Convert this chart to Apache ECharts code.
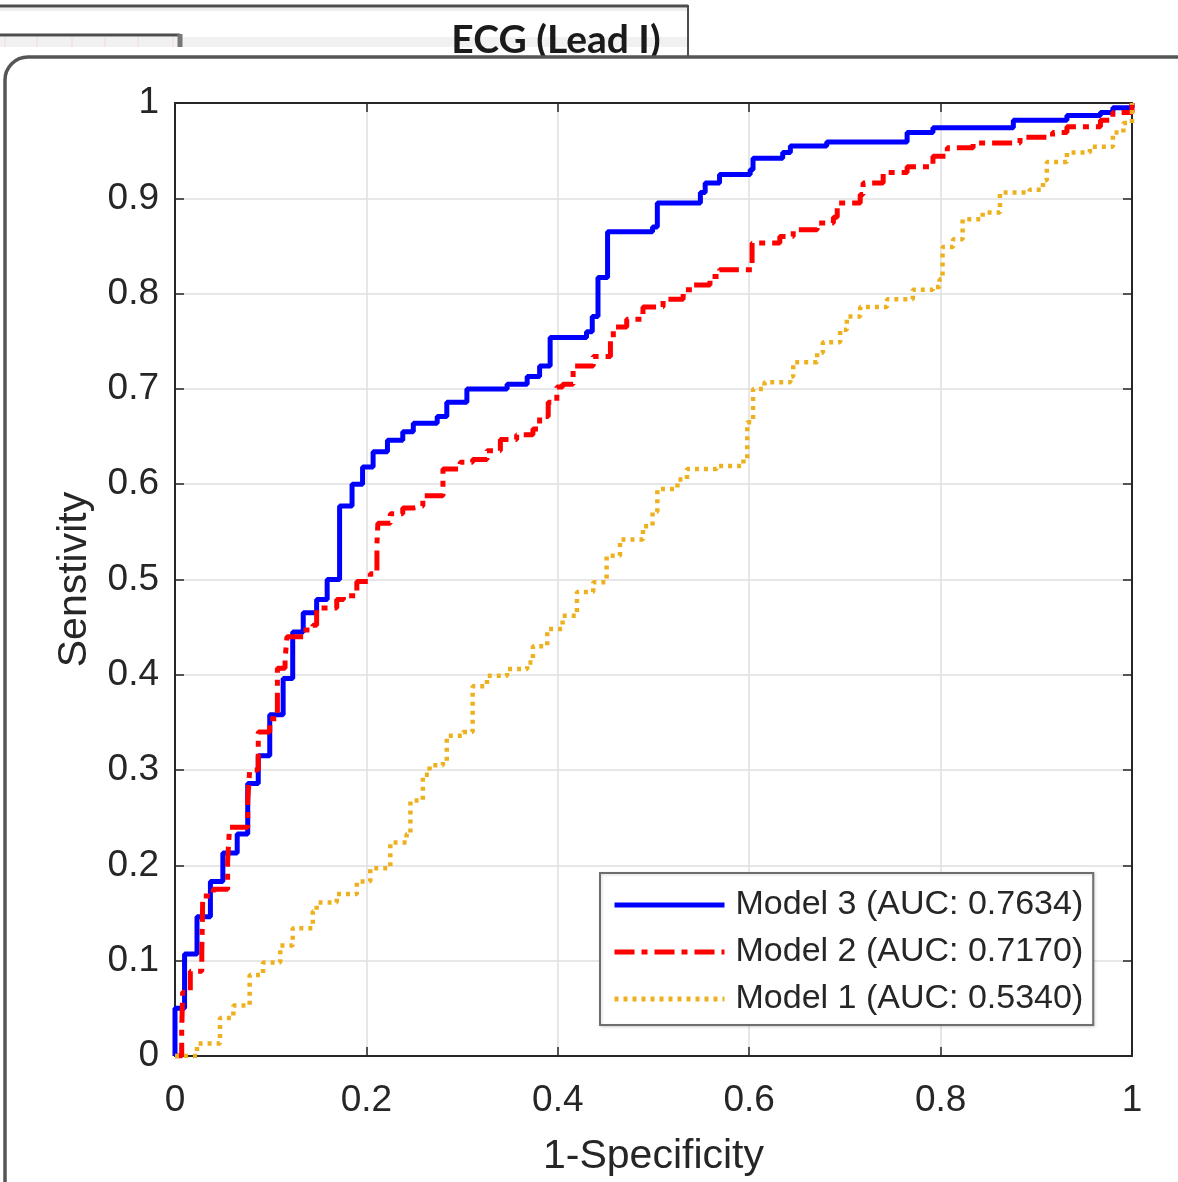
<!DOCTYPE html>
<html>
<head>
<meta charset="utf-8">
<title>ROC - ECG (Lead I)</title>
<script src="https://cdn.jsdelivr.net/npm/echarts@6/dist/echarts.min.js"></script>
<style>
    html, body { margin: 0; padding: 0; background: #fff; }
    /* chart fills the whole window */
    #chart { width: 1178px; height: 1182px; }
</style>
</head>
<body>
<div id="chart"></div>
<script>
    // legend names
    var seriesNames = ['Model 3 (AUC: 0.7634)', 'Model 2 (AUC: 0.7170)', 'Model 1 (AUC: 0.5340)'];
    // tick labels
    var xTicks = [0, 0.2, 0.4, 0.6, 0.8, 1];
    var yTicks = [0, 0.1, 0.2, 0.3, 0.4, 0.5, 0.6, 0.7, 0.8, 0.9, 1];

    // ROC corner points [1-specificity, sensitivity], drawn as steps
    var model3Roc = [
        [0, 0], [0, 0.05], [0.010, 0.107], [0.023, 0.146], [0.037, 0.183], [0.050, 0.213],
        [0.065, 0.233], [0.076, 0.286], [0.087, 0.315], [0.099, 0.358], [0.113, 0.396],
        [0.123, 0.445], [0.134, 0.465], [0.148, 0.479], [0.159, 0.5], [0.172, 0.577],
        [0.185, 0.6], [0.196, 0.618], [0.207, 0.634], [0.222, 0.646], [0.238, 0.655],
        [0.249, 0.664], [0.274, 0.671], [0.284, 0.686], [0.305, 0.70], [0.347, 0.705],
        [0.368, 0.713], [0.381, 0.724], [0.392, 0.754], [0.43, 0.76], [0.436, 0.776],
        [0.442, 0.817], [0.452, 0.865], [0.499, 0.87], [0.504, 0.895], [0.549, 0.906],
        [0.554, 0.916], [0.569, 0.925], [0.601, 0.93], [0.604, 0.942], [0.635, 0.948],
        [0.643, 0.955], [0.681, 0.959], [0.765, 0.969], [0.792, 0.974], [0.876, 0.982],
        [0.932, 0.987], [0.967, 0.99], [0.98, 0.995], [1, 1]
    ];
    var model2Roc = [
        [0, 0], [0.002, 0], [0.007, 0.027], [0.008, 0.067], [0.016, 0.089], [0.028, 0.107],
        [0.029, 0.168], [0.040, 0.175], [0.055, 0.205], [0.057, 0.24], [0.076, 0.268],
        [0.078, 0.30], [0.087, 0.34], [0.099, 0.354], [0.107, 0.407], [0.115, 0.416],
        [0.117, 0.44], [0.134, 0.447], [0.144, 0.452], [0.148, 0.47], [0.169, 0.479],
        [0.176, 0.483], [0.19, 0.498], [0.204, 0.506], [0.211, 0.537], [0.212, 0.559],
        [0.225, 0.569], [0.238, 0.575], [0.249, 0.577], [0.259, 0.588], [0.28, 0.616],
        [0.298, 0.623], [0.311, 0.626], [0.326, 0.635], [0.34, 0.647], [0.357, 0.652],
        [0.374, 0.658], [0.381, 0.671], [0.39, 0.686], [0.399, 0.702], [0.405, 0.705],
        [0.416, 0.724], [0.437, 0.734], [0.455, 0.752], [0.458, 0.765], [0.472, 0.773],
        [0.489, 0.786], [0.51, 0.794], [0.531, 0.804], [0.541, 0.809], [0.559, 0.818],
        [0.569, 0.825], [0.603, 0.853], [0.632, 0.86], [0.646, 0.867], [0.671, 0.874],
        [0.688, 0.88], [0.692, 0.895], [0.716, 0.904], [0.719, 0.916], [0.74, 0.927],
        [0.765, 0.933], [0.792, 0.944], [0.807, 0.953], [0.834, 0.958], [0.883, 0.964],
        [0.917, 0.969], [0.932, 0.975], [0.967, 0.982], [0.98, 0.99], [1, 1]
    ];
    var model1Roc = [
        [0, 0], [0.005, 0], [0.023, 0.013], [0.047, 0.04], [0.061, 0.053], [0.078, 0.085],
        [0.092, 0.098], [0.11, 0.116], [0.123, 0.134], [0.144, 0.152], [0.148, 0.161],
        [0.169, 0.17], [0.19, 0.183], [0.204, 0.197], [0.225, 0.224], [0.242, 0.233],
        [0.246, 0.268], [0.259, 0.295], [0.266, 0.305], [0.28, 0.309], [0.284, 0.336],
        [0.301, 0.34], [0.311, 0.388], [0.326, 0.399], [0.347, 0.406], [0.368, 0.413],
        [0.374, 0.43], [0.389, 0.448], [0.405, 0.462], [0.42, 0.487], [0.437, 0.497],
        [0.451, 0.525], [0.465, 0.542], [0.489, 0.556], [0.499, 0.571], [0.504, 0.595],
        [0.525, 0.605], [0.535, 0.616], [0.566, 0.619], [0.594, 0.626], [0.598, 0.665],
        [0.604, 0.70], [0.616, 0.707], [0.643, 0.713], [0.646, 0.728], [0.671, 0.738],
        [0.677, 0.749], [0.695, 0.762], [0.702, 0.776], [0.716, 0.786], [0.744, 0.794],
        [0.771, 0.804], [0.792, 0.807], [0.799, 0.815], [0.802, 0.849], [0.813, 0.857],
        [0.823, 0.878], [0.844, 0.885], [0.862, 0.906], [0.893, 0.909], [0.907, 0.919],
        [0.911, 0.938], [0.932, 0.948], [0.956, 0.954], [0.98, 0.969], [0.991, 0.979], [1, 1]
    ];

    var axisColor = '#262626';
    var font = '"Liberation Sans", Arial, sans-serif';

    var myChart = echarts.init(document.getElementById('chart'));

    // frame of the screenshot around the plot
    var paperLines = [5, 37, 72, 105, 138, 173].map(function (x) {
        return {
            type: 'line', z: -30, silent: true,
            shape: { x1: x, y1: 37, x2: x, y2: 47 },
            style: { stroke: '#f6d6d6', lineWidth: 1 }
        };
    });
    var frame = [
        { type: 'rect', z: -40, silent: true, shape: { x: 0, y: 8, width: 687, height: 3 }, style: { fill: '#eeeeee' } },
        { type: 'rect', z: -40, silent: true, shape: { x: 0, y: 37, width: 687, height: 10 }, style: { fill: '#f1f1f1' } },
        { type: 'line', z: -20, silent: true, shape: { x1: 0, y1: 6, x2: 688, y2: 6 }, style: { stroke: '#4d4d4d', lineWidth: 3 } },
        { type: 'line', z: -20, silent: true, shape: { x1: 688, y1: 5, x2: 688, y2: 56 }, style: { stroke: '#4d4d4d', lineWidth: 2 } },
        { type: 'line', z: -20, silent: true, shape: { x1: 0, y1: 35, x2: 180, y2: 35 }, style: { stroke: '#4d4d4d', lineWidth: 3 } },
        { type: 'line', z: -20, silent: true, shape: { x1: 180, y1: 34, x2: 180, y2: 47 }, style: { stroke: '#777777', lineWidth: 5 } },
        {
            type: 'text', z: -20, silent: true,
            style: {
                x: 556, y: 21, text: 'ECG (Lead I)', align: 'center', verticalAlign: 'top',
                fill: '#1a1a1a', font: 'bold 39px Lato, "Open Sans", sans-serif'
            }
        },
        {
            type: 'rect', z: -10, silent: true,
            shape: { x: 5, y: 57, width: 1200, height: 1200, r: 23 },
            style: { fill: '#ffffff', stroke: '#555555', lineWidth: 3.5 }
        }
    ].concat(paperLines);

    var option = {
        animation: false,
        backgroundColor: '#ffffff',
        graphic: { elements: frame },
        grid: {
            left: 175, top: 103, width: 957, height: 955,
            show: false
        },
        legend: {
            data: seriesNames,
            orient: 'vertical',
            left: 600, top: 873,
            padding: [12, 10, 6, 12],
            itemWidth: 110, itemHeight: 20, itemGap: 7,
            lineStyle: { width: 5 },
            backgroundColor: '#ffffff',
            borderColor: '#6e6e6e', borderWidth: 2,
            shadowColor: 'rgba(0,0,0,0.15)', shadowBlur: 3, shadowOffsetX: 1, shadowOffsetY: 1,
            textStyle: {
                color: axisColor, fontFamily: font, fontSize: 34, lineHeight: 40,
                padding: [0, 0, 0, 6]
            }
        },
        xAxis: [{
            type: 'value', min: 0, max: 1, interval: 0.2,
            name: '1-Specificity', nameLocation: 'middle', nameGap: 80,
            nameTextStyle: { color: axisColor, fontFamily: font, fontSize: 41 },
            axisLine: { show: true, onZero: false, lineStyle: { color: axisColor, width: 2 } },
            axisTick: { show: true, inside: true, length: 9, lineStyle: { color: axisColor, width: 1.5 } },
            axisLabel: { color: axisColor, fontFamily: font, fontSize: 37, margin: 26 },
            splitLine: { show: true, lineStyle: { color: '#dfdfdf', width: 1.5 } }
        }, {
            type: 'value', min: 0, max: 1, interval: 0.2, position: 'top',
            axisLine: { show: true, onZero: false, lineStyle: { color: axisColor, width: 2 } },
            axisTick: { show: true, inside: true, length: 9, lineStyle: { color: axisColor, width: 1.5 } },
            axisLabel: { show: false },
            splitLine: { show: false }
        }],
        yAxis: [{
            type: 'value', min: 0, max: 1, interval: 0.1,
            name: 'Senstivity', nameLocation: 'middle', nameGap: 80,
            nameTextStyle: { color: axisColor, fontFamily: font, fontSize: 41 },
            axisLine: { show: true, onZero: false, lineStyle: { color: axisColor, width: 2 } },
            axisTick: { show: true, inside: true, length: 9, lineStyle: { color: axisColor, width: 1.5 } },
            axisLabel: { color: axisColor, fontFamily: font, fontSize: 37, margin: 16 },
            splitLine: { show: true, lineStyle: { color: '#dfdfdf', width: 1.5 } }
        }, {
            type: 'value', min: 0, max: 1, interval: 0.1, position: 'right',
            axisLine: { show: true, onZero: false, lineStyle: { color: axisColor, width: 2 } },
            axisTick: { show: true, inside: true, length: 9, lineStyle: { color: axisColor, width: 1.5 } },
            axisLabel: { show: false },
            splitLine: { show: false }
        }],
        series: [{
            name: seriesNames[0], type: 'line', step: 'end', data: model3Roc,
            showSymbol: false, symbol: 'none',
            lineStyle: { color: '#0000ff', width: 5 },
            // hidden legend marker, only the line sample stays
            itemStyle: { color: '#0000ff', opacity: 0 }
        }, {
            name: seriesNames[1], type: 'line', step: 'end', data: model2Roc,
            showSymbol: false, symbol: 'none',
            lineStyle: { color: '#ff0000', width: 5, type: [20, 7, 6, 7] },
            itemStyle: { color: '#ff0000', opacity: 0 }
        }, {
            name: seriesNames[2], type: 'line', step: 'end', data: model1Roc,
            showSymbol: false, symbol: 'none',
            lineStyle: { color: '#edb120', width: 4.5, type: [4, 5] },
            itemStyle: { color: '#edb120', opacity: 0 }
        }]
    };

    myChart.setOption(option);
</script>
</body>
</html>
